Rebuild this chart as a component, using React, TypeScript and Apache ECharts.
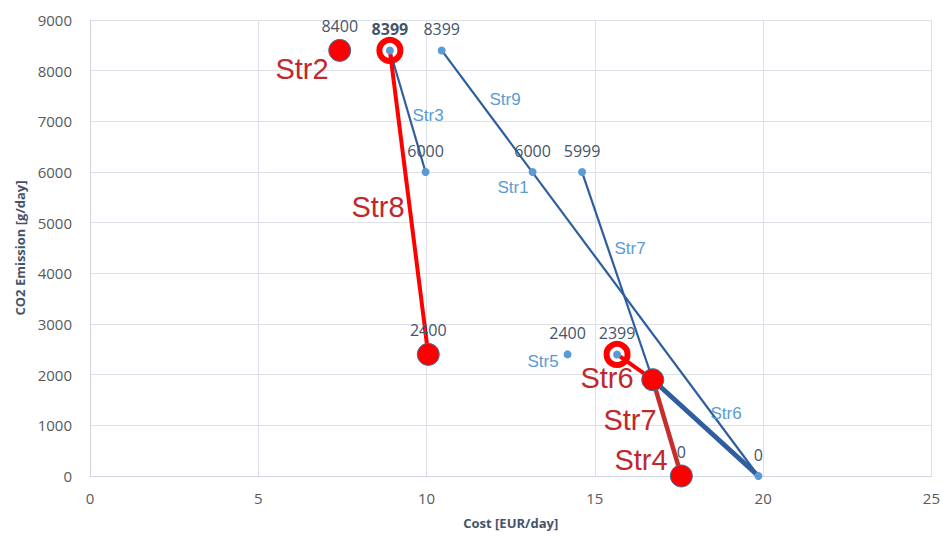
import React, { useEffect, useRef } from "react";
import * as echarts from "echarts";

// Axis ticks
const xTicks = [0, 5, 10, 15, 20, 25];
const yTicks = [0, 1000, 2000, 3000, 4000, 5000, 6000, 7000, 8000, 9000];

// Blue points (cost, emission)
const blueX = [8.91, 10.45, 9.97, 13.15, 14.62, 14.19, 15.66, 19.86];
const blueY = [8399, 8399, 6000, 6000, 5999, 2400, 2399, 0];

// Red big points
const redX = [7.42, 10.05, 16.72, 17.57];
const redY = [8400, 2400, 1900, 0];
const redShowLabel = [true, true, false, true];

// Red rings
const ringX = [8.91, 15.66];
const ringY = [8399, 2399];

// Blue connecting lines
const str3Line = [[8.91, 8399], [9.97, 6000]];
const str9Line = [[10.45, 8399], [19.86, 0]];
const str7BlueLine = [[14.62, 5999], [16.72, 1900]];
const str6BlueLine = [[16.72, 1900], [19.86, 0]];

// Red connecting lines
const str8RedLine = [[8.91, 8399], [10.05, 2400]];
const str6RedLine = [[15.66, 2399], [16.72, 1900]];
const str7RedLine = [[16.72, 1900], [17.57, 0]];

// Series name annotations
const blueNames = ["Str3", "Str9", "Str1", "Str7", "Str5", "Str6"];
const redNames = ["Str2", "Str8", "Str6", "Str7", "Str4"];

const bluePos = [
  [428, 115],
  [505, 99],
  [513, 187],
  [630, 248],
  [543, 361],
  [726, 413],
];
const redPos = [
  [302, 69],
  [378, 207],
  [607, 378],
  [630, 420],
  [641, 460],
];

const NUM_FONT = "Open Sans";
const LBL_COLOR = "#44546a";

export default function App() {
  const ref = useRef<HTMLDivElement>(null);
  useEffect(() => {
    if (!ref.current) return;
    const chart = echarts.init(ref.current, null, { renderer: "svg" });
    const blueLineColor = "#2f5e9e";
    const mkLine = (data: number[][], color: string, width: number, z: number) => ({
      type: "line",
      data,
      symbol: "none",
      lineStyle: { color, width, opacity: 1 },
      z,
      silent: true,
    });
    const option: any = {
      animation: false,
      grid: { left: 90, right: 10, top: 20, bottom: 62, containLabel: false },
      xAxis: {
        type: "value",
        min: xTicks[0],
        max: xTicks[xTicks.length - 1],
        interval: 5,
        name: "Cost [EUR/day]",
        nameLocation: "middle",
        nameGap: 40,
        nameTextStyle: { fontFamily: NUM_FONT, fontWeight: "bold", fontSize: 13, color: LBL_COLOR },
        axisLine: { show: true, lineStyle: { color: "#d0d4de", width: 1 } },
        axisTick: { show: false },
        axisLabel: {
          fontFamily: NUM_FONT,
          fontSize: 15,
          color: "#595959",
          margin: 14,
          formatter: (v: number) => String(v),
        },
        splitLine: { show: true, lineStyle: { color: "#dde0e8", width: 1 } },
      },
      yAxis: {
        type: "value",
        min: yTicks[0],
        max: yTicks[yTicks.length - 1],
        interval: 1000,
        name: "CO2 Emission [g/day]",
        nameLocation: "middle",
        nameGap: 64,
        nameTextStyle: { fontFamily: NUM_FONT, fontWeight: "bold", fontSize: 13, color: LBL_COLOR },
        axisLine: { show: true, lineStyle: { color: "#d0d4de", width: 1 } },
        axisTick: { show: false },
        axisLabel: {
          fontFamily: NUM_FONT,
          fontSize: 15,
          color: "#595959",
          margin: 18,
          formatter: (v: number) => String(v),
        },
        splitLine: { show: true, lineStyle: { color: "#dde0e8", width: 1 } },
      },
      series: [
        {
          type: "scatter",
          data: ringX.map((x, i) => [x, ringY[i]]),
          symbol: "circle",
          symbolSize: 21,
          itemStyle: { color: "#ffffff", borderColor: "#ff0000", borderWidth: 6, opacity: 1 },
          z: 1,
          silent: true,
        },
        mkLine(str3Line, blueLineColor, 2.2, 2),
        mkLine(str9Line, blueLineColor, 2.2, 2),
        mkLine(str7BlueLine, blueLineColor, 2.2, 2),
        mkLine(str6BlueLine, blueLineColor, 5, 2),
        mkLine(str8RedLine, "#ff0000", 4, 3),
        mkLine(str6RedLine, "#ff0000", 4, 3),
        mkLine(str7RedLine, "#c62d2d", 4.5, 3),
        {
          type: "scatter",
          data: redX.map((x, i) => ({
            value: [x, redY[i]],
            label: { show: redShowLabel[i] },
          })),
          symbol: "circle",
          symbolSize: 22,
          itemStyle: { color: "#ff0000", borderColor: "#41719c", borderWidth: 1, opacity: 1 },
          label: {
            show: true,
            position: "top",
            distance: 5,
            formatter: (p: any) => String(p.value[1]),
            fontFamily: NUM_FONT,
            fontSize: 16,
            color: LBL_COLOR,
          },
          z: 4,
          silent: true,
        },
        {
          type: "scatter",
          data: blueX.map((x, i) => ({
            value: [x, blueY[i]],
            label: i === 0 ? { fontWeight: "bold" } : {},
          })),
          symbol: "circle",
          symbolSize: 8,
          itemStyle: { color: "#5b9bd5", opacity: 1 },
          label: {
            show: true,
            position: "top",
            distance: 9,
            formatter: (p: any) => String(p.value[1]),
            fontFamily: NUM_FONT,
            fontSize: 16,
            color: LBL_COLOR,
          },
          z: 5,
          silent: true,
        },
      ],
      graphic: [
        ...blueNames.map((t, i) => ({
          type: "text",
          x: bluePos[i][0],
          y: bluePos[i][1],
          z: 10,
          style: {
            text: t,
            fill: "#5b9bd5",
            fontSize: 17,
            fontFamily: "Liberation Sans",
            align: "center",
            verticalAlign: "middle",
          },
        })),
        ...redNames.map((t, i) => ({
          type: "text",
          x: redPos[i][0],
          y: redPos[i][1],
          z: 10,
          style: {
            text: t,
            fill: "#c0282d",
            fontSize: 29,
            fontFamily: "Liberation Sans",
            align: "center",
            verticalAlign: "middle",
          },
        })),
      ],
    };
    chart.setOption(option);
    return () => chart.dispose();
  }, []);
  return (
    <div
      ref={ref}
      style={{ position: "absolute", left: 0, top: 0, width: 943, height: 538, background: "#ffffff" }}
    />
  );
}
